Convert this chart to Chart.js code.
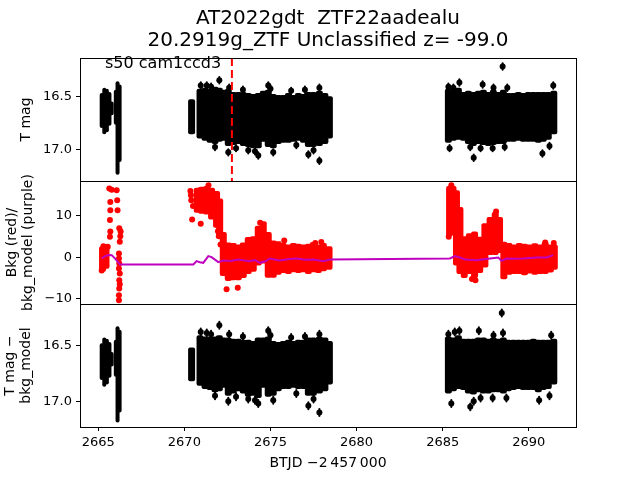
<!DOCTYPE html>
<html>
<head>
<meta charset="utf-8">
<script src="https://cdn.jsdelivr.net/npm/chart.js@4.4.1/dist/chart.umd.min.js"></script>
<style>
html, body { margin: 0; padding: 0; background: #fff; }
#wrap { position: relative; width: 640px; height: 480px; }
#wrap canvas { position: absolute; left: 0; top: 0; }
</style>
</head>
<body>
<div id="wrap">
    <canvas id="c1" width="640" height="480"></canvas>
    <canvas id="c2" width="640" height="480"></canvas>
    <canvas id="c3" width="640" height="480"></canvas>
</div>
<script>
// ===== Data =====
const titleLines = ['AT2022gdt  ZTF22aadealu', '20.2919g_ZTF Unclassified z= -99.0'];
const sectorLabel = 's50 cam1ccd3';
const xLabel = 'BTJD \u22122\u2009457\u2009000';
const xMin = 2663.94, xMax = 2692.74;
const xTicks = [2665, 2670, 2675, 2680, 2685, 2690];
const magTicks = [16.5, 17.0];
const bkgTicks = [-10, 0, 10];
const markerT = 2672.76;        // red dashed line
const spikeErr = 0.04;          // typical error bar half-length (mag)

// panel 1: T mag, dense band [t, top, bottom]
const magLeft1 = [
    [2665.20, 16.47, 16.80], [2665.35, 16.42, 16.86], [2665.50, 16.43, 16.84], [2665.65, 16.46, 16.78], [2665.78, 16.55, 16.68],
    [2666.02, 16.44, 16.77], [2666.12, 16.36, 17.24], [2666.24, 16.39, 17.12]
];
const magMid1 = [
    [2670.42, 16.53, 16.86], [2670.91, 16.43, 16.90], [2671.20, 16.42, 16.92], [2671.49, 16.43, 16.94],
    [2671.78, 16.41, 16.95], [2672.03, 16.42, 16.93], [2672.26, 16.44, 16.92], [2672.55, 16.43, 16.97],
    [2672.84, 16.46, 16.96], [2673.13, 16.46, 16.95], [2673.42, 16.46, 16.97], [2673.71, 16.47, 16.98],
    [2674.00, 16.48, 16.99], [2674.29, 16.47, 16.99], [2674.58, 16.45, 16.93], [2674.87, 16.44, 16.98],
    [2675.16, 16.48, 16.99], [2675.45, 16.49, 16.95], [2675.74, 16.49, 16.94], [2676.04, 16.47, 16.94],
    [2676.33, 16.49, 16.93], [2676.62, 16.47, 16.92], [2676.91, 16.48, 16.94], [2677.20, 16.46, 16.98],
    [2677.49, 16.46, 16.98], [2677.84, 16.45, 16.97], [2678.16, 16.47, 16.95], [2678.42, 16.50, 16.90]
];
const magRight1 = [
    [2685.33, 16.43, 16.94], [2685.62, 16.44, 16.92], [2685.91, 16.42, 16.91], [2686.20, 16.46, 16.92],
    [2686.49, 16.45, 16.95], [2686.78, 16.46, 16.97], [2687.07, 16.45, 16.95], [2687.36, 16.44, 16.96],
    [2687.65, 16.46, 16.97], [2687.94, 16.44, 16.96], [2688.23, 16.46, 16.95], [2688.52, 16.44, 16.95],
    [2688.81, 16.47, 16.93], [2689.10, 16.47, 16.93], [2689.39, 16.46, 16.92], [2689.68, 16.47, 16.93],
    [2689.97, 16.46, 16.93], [2690.26, 16.46, 16.93], [2690.55, 16.46, 16.94], [2690.84, 16.46, 16.93],
    [2691.13, 16.46, 16.91], [2691.45, 16.45, 16.86]
];
// single points sticking out of the band [t, mag]
const magSpikes1 = [
    [2670.95, 16.40], [2671.30, 16.40], [2671.55, 16.41], [2672.03, 16.35], [2672.60, 16.42], [2673.40, 16.44],
    [2674.87, 16.40], [2675.00, 16.43], [2676.20, 16.45], [2677.00, 16.44], [2677.84, 16.42],
    [2671.78, 16.98], [2672.55, 17.03], [2673.00, 16.99], [2673.71, 17.01], [2674.10, 17.02], [2674.29, 17.06],
    [2675.16, 17.03], [2676.50, 16.96], [2677.20, 17.05], [2677.50, 17.01], [2677.84, 17.11],
    [2685.33, 16.41], [2685.62, 16.42], [2685.97, 16.37], [2687.32, 16.39], [2687.95, 16.42], [2688.48, 16.22],
    [2688.75, 16.42], [2691.42, 16.40],
    [2685.40, 16.99], [2686.60, 16.98], [2686.80, 17.08], [2687.20, 16.99], [2687.90, 16.99], [2688.60, 16.98],
    [2690.79, 17.04], [2691.20, 16.97]
];

// panel 2: background (red) [t, high, low] and single dots [t, value]
const bkgLeft = [[2665.25, 2.6, -3.5], [2665.45, 2.7, -2.8]];
const bkgMid = [
    [2670.75, 16.6, 10.6], [2671.00, 16.8, 10.4], [2671.29, 17.0, 10.2], [2671.58, 16.6, 9.0],
    [2671.87, 15.8, 7.0], [2672.05, 14.0, 4.5], [2672.26, 6.0, -4.5], [2672.55, 3.5, -5.7],
    [2672.84, 3.4, -5.5], [2673.13, 3.0, -5.5], [2673.42, 3.5, -5.0], [2673.71, 4.8, -4.0],
    [2674.00, 5.0, -3.5], [2674.29, 7.5, -2.0], [2674.58, 8.6, -1.5], [2674.87, 6.0, -4.9],
    [2675.16, 4.0, -4.9], [2675.45, 3.8, -4.2], [2675.74, 3.4, -3.8], [2676.04, 3.0, -4.0],
    [2676.33, 3.4, -3.6], [2676.62, 3.2, -3.8], [2676.91, 3.0, -3.6], [2677.20, 3.2, -4.0],
    [2677.49, 3.6, -3.6], [2677.78, 3.0, -3.8], [2678.07, 3.4, -3.4], [2678.40, 2.6, -3.0]
];
const bkgRight = [
    [2685.40, 17.0, 5.0], [2685.60, 17.0, 7.0], [2685.80, 16.0, -2.0], [2686.00, 12.0, -4.0],
    [2686.25, 5.0, -5.0], [2686.55, 5.7, -4.0], [2686.85, 6.1, -5.0], [2687.15, 4.9, -3.8],
    [2687.45, 8.1, -2.5], [2687.75, 9.6, 0.5], [2688.05, 10.8, 0.5], [2688.30, 9.6, 1.0],
    [2688.55, 3.7, -5.3], [2688.85, 3.4, -4.2], [2689.15, 3.0, -4.0], [2689.45, 3.4, -4.0],
    [2689.75, 3.2, -4.3], [2690.05, 3.0, -3.9], [2690.35, 3.3, -4.2], [2690.65, 3.0, -4.0],
    [2690.95, 3.7, -4.0], [2691.25, 3.0, -3.7], [2691.48, 3.0, -3.0]
];
const bkgDots = [
    [2665.64, 16.4], [2665.78, 16.1], [2665.70, 13.2], [2665.70, 11.2], [2665.68, 8.9], [2665.70, 6.1],
    [2665.68, 4.9], [2665.30, 2.6], [2665.55, 2.5], [2665.20, -3.2],
    [2666.07, 16.0], [2666.10, 13.6], [2666.12, 11.2], [2666.22, 6.9], [2666.30, 6.1], [2666.28, 5.0],
    [2666.25, 3.7], [2666.20, 0.9], [2666.20, -0.3], [2666.22, -1.5], [2666.20, -2.7], [2666.25, -3.9],
    [2666.22, -5.5], [2666.25, -6.5], [2666.22, -7.5], [2666.20, -9.1], [2666.20, -10.3],
    [2670.35, 15.8], [2670.38, 14.8], [2670.40, 13.6], [2670.50, 12.2], [2670.45, 9.0], [2670.95, 8.0],
    [2671.40, 17.2], [2671.95, 6.2], [2672.00, 5.0], [2672.10, 3.0], [2672.45, -7.7], [2673.10, -7.3],
    [2674.40, 8.2], [2675.80, 4.0], [2677.60, 3.4], [2677.95, 3.6],
    [2685.35, 4.9], [2685.50, 17.2], [2686.90, -5.5], [2688.10, 10.9], [2686.70, -5.2], [2690.95, 3.5], [2691.45, 3.4]
];
// bkg model (purple) [t, value]
const bkgModel = [
    [2665.20, -0.3], [2665.40, 0.24], [2665.60, 0.5], [2665.78, 0.48], [2665.97, -0.3], [2666.26, -1.75],
    [2670.52, -1.75], [2670.71, -0.96], [2670.90, -1.2], [2671.10, -1.36], [2671.39, 0.24], [2671.58, 0.0],
    [2671.97, -1.2], [2672.26, -0.8], [2672.70, -0.9], [2673.13, -0.56], [2673.50, -0.8], [2673.81, -0.96],
    [2674.10, -0.7], [2674.39, -1.36], [2674.70, -1.0], [2674.97, -0.32], [2675.30, -0.6], [2675.55, -0.8],
    [2676.00, -0.5], [2676.52, -0.32], [2677.00, -0.6], [2677.49, -0.56], [2678.07, -0.96], [2678.45, -0.56],
    [2685.42, -0.32], [2685.71, 0.24], [2686.00, -0.08], [2686.30, -0.56], [2686.97, -0.72], [2687.40, -0.5],
    [2687.75, -0.32], [2688.23, -0.08], [2688.42, -0.88], [2688.71, -0.32], [2689.20, -0.4], [2689.68, -0.32],
    [2690.10, -0.2], [2690.46, -0.08], [2691.04, -0.08], [2691.42, 0.48]
];

// panel 3: T mag - bkg_model
const magLeft3 = [
    [2665.20, 16.48, 16.81], [2665.35, 16.43, 16.87], [2665.50, 16.44, 16.85], [2665.65, 16.47, 16.79], [2665.78, 16.56, 16.69],
    [2666.02, 16.45, 16.78], [2666.12, 16.33, 17.19], [2666.24, 16.36, 17.10]
];
const magMid3 = [
    [2670.42, 16.52, 16.82], [2670.91, 16.41, 16.86], [2671.20, 16.42, 16.89], [2671.49, 16.42, 16.90],
    [2671.78, 16.42, 16.92], [2672.03, 16.41, 16.91], [2672.26, 16.43, 16.88], [2672.55, 16.43, 16.95],
    [2672.84, 16.44, 16.93], [2673.13, 16.44, 16.91], [2673.42, 16.45, 16.93], [2673.71, 16.45, 16.96],
    [2674.00, 16.46, 16.95], [2674.29, 16.43, 16.97], [2674.58, 16.43, 16.88], [2674.87, 16.42, 16.96],
    [2675.16, 16.46, 16.95], [2675.45, 16.47, 16.91], [2675.74, 16.46, 16.89], [2676.04, 16.45, 16.89],
    [2676.33, 16.46, 16.88], [2676.62, 16.45, 16.89], [2676.91, 16.45, 16.89], [2677.20, 16.43, 16.95],
    [2677.49, 16.43, 16.95], [2677.84, 16.42, 16.93], [2678.16, 16.43, 16.91], [2678.42, 16.46, 16.85]
];
const magRight3 = [
    [2685.33, 16.42, 16.93], [2685.62, 16.43, 16.91], [2685.91, 16.41, 16.89], [2686.20, 16.44, 16.90],
    [2686.49, 16.44, 16.93], [2686.78, 16.44, 16.94], [2687.07, 16.43, 16.92], [2687.36, 16.43, 16.93],
    [2687.65, 16.44, 16.93], [2687.94, 16.43, 16.92], [2688.23, 16.44, 16.92], [2688.52, 16.43, 16.93],
    [2688.81, 16.45, 16.91], [2689.10, 16.45, 16.90], [2689.39, 16.45, 16.89], [2689.68, 16.45, 16.90],
    [2689.97, 16.45, 16.90], [2690.26, 16.44, 16.90], [2690.55, 16.45, 16.92], [2690.84, 16.45, 16.90],
    [2691.13, 16.45, 16.89], [2691.45, 16.44, 16.85]
];
const magSpikes3 = [
    [2670.95, 16.38], [2671.30, 16.39], [2671.55, 16.40], [2672.03, 16.32], [2672.60, 16.40], [2673.40, 16.42],
    [2674.87, 16.37], [2675.00, 16.41], [2676.20, 16.43], [2677.00, 16.42], [2677.84, 16.40],
    [2671.78, 16.95], [2672.55, 17.00], [2673.00, 16.96], [2673.71, 16.98], [2674.10, 16.99], [2674.29, 17.02],
    [2675.16, 16.99], [2676.50, 16.93], [2677.20, 17.04], [2677.50, 16.98], [2677.84, 17.10],
    [2685.33, 16.40], [2685.70, 16.38], [2685.97, 16.37], [2687.10, 16.37], [2687.95, 16.41], [2688.43, 16.21],
    [2688.50, 16.39], [2691.30, 16.41],
    [2685.50, 17.02], [2686.60, 17.05], [2686.80, 17.00], [2687.20, 16.97], [2687.90, 16.97], [2688.70, 16.97],
    [2690.60, 16.99], [2691.20, 16.95]
];

// ===== Helpers =====
const FONT = 'DejaVu Sans';
Chart.defaults.font.family = FONT;
Chart.defaults.color = '#000';
Chart.defaults.animation = false;

const toBand = rows => rows.map(r => ({ x: r[0], y: [r[1], r[2]] }));
const toErr = rows => rows.map(r => [r[0], r[1] - spikeErr, r[1] + spikeErr]);
const toPts = rows => rows.map(r => ({ x: r[0], y: r[1] }));

function band(rows, color, width, order) {
    return {
        type: 'bar', data: toBand(rows), backgroundColor: color, grouped: false,
        barPercentage: 100, maxBarThickness: width, borderRadius: 2, borderSkipped: false, order: order || 3
    };
}
function dots(rows, color, r) {
    return { type: 'scatter', data: toPts(rows), backgroundColor: color, borderWidth: 0, pointRadius: r, order: 1 };
}

const framePlugin = {
    id: 'frame',
    afterDatasetsDraw(chart) {
        const a = chart.chartArea, ctx = chart.ctx;
        ctx.save();
        ctx.strokeStyle = '#000';
        ctx.lineWidth = 1;
        ctx.strokeRect(a.left + 0.5, a.top + 0.5, a.right - a.left, a.bottom - a.top);
        ctx.restore();
    }
};
const sectorPlugin = {
    id: 'sector',
    afterDraw(chart) {
        const a = chart.chartArea, ctx = chart.ctx;
        ctx.save();
        ctx.font = '16px ' + FONT;
        ctx.fillStyle = '#000';
        ctx.textBaseline = 'middle';
        ctx.fillText(sectorLabel, a.left + 25, a.top + 6);
        ctx.restore();
    }
};

function hiddenX() {
    return { type: 'linear', min: xMin, max: xMax, offset: false, display: false };
}
function yAxis(min, max, reverse, ticks, fmt, title, titlePad) {
    return {
        type: 'linear', min, max, reverse, offset: false,
        afterFit: s => { s.width = 80; },
        afterBuildTicks: s => { s.ticks = ticks.map(v => ({ value: v })); },
        border: { display: false },
        grid: { drawOnChartArea: false, drawTicks: true, tickLength: 4, color: '#000', offset: false },
        ticks: { color: '#000', font: { size: 13 }, padding: 4, callback: fmt },
        title: { display: true, text: title, color: '#000', font: { size: 14, lineHeight: 1.1 }, padding: { top: titlePad, bottom: 0 } }
    };
}
const magFmt = v => v.toFixed(1);
const bkgFmt = v => (v < 0 ? '\u2212' + Math.abs(v) : String(v));
const baseOpts = {
    responsive: false,
    events: [],
    plugins: { legend: { display: false }, tooltip: { enabled: false } }
};

// ===== Panel 1: T mag =====
new Chart(document.getElementById('c1'), {
    type: 'bar',
    data: {
        datasets: [
            { type: 'line', data: [{ x: markerT, y: 16.14 }, { x: markerT, y: 17.30 }], borderColor: '#ff0000',
              borderWidth: 2, borderDash: [8, 4], pointRadius: 0, order: 0 },
            dots(magSpikes1, '#000', 3),
            band(toErr(magSpikes1), '#000', 2, 2),
            band(magLeft1, '#000', 4),
            band(magMid1.concat(magRight1), '#000', 7)
        ]
    },
    options: Object.assign({}, baseOpts, {
        layout: { padding: { left: 0, right: 64, top: 4, bottom: 299 } },
        plugins: Object.assign({}, baseOpts.plugins, {
            title: { display: true, text: titleLines, fullSize: false, color: '#000',
                     font: { size: 20, weight: 'normal', lineHeight: 1.1 }, padding: { top: 4, bottom: 6 } }
        }),
        scales: { x: hiddenX(), y: yAxis(16.14, 17.30, true, magTicks, magFmt, 'T mag', 19) }
    }),
    plugins: [framePlugin, sectorPlugin]
});

// ===== Panel 2: Bkg / model =====
new Chart(document.getElementById('c2'), {
    type: 'bar',
    data: {
        datasets: [
            { type: 'line', data: toPts(bkgModel), borderColor: '#bf00bf', borderWidth: 2, pointRadius: 0, tension: 0, order: 0 },
            dots(bkgDots, '#ff0000', 3),
            band(bkgLeft.concat(bkgMid, bkgRight), '#ff0000', 7)
        ]
    },
    options: Object.assign({}, baseOpts, {
        layout: { padding: { left: 0, right: 64, top: 181, bottom: 176 } },
        scales: { x: hiddenX(), y: yAxis(-11.2, 18.2, false, bkgTicks, bkgFmt, ['Bkg (red)/', 'bkg_model (purple)'], 5) }
    }),
    plugins: [framePlugin]
});

// ===== Panel 3: T mag - bkg_model =====
new Chart(document.getElementById('c3'), {
    type: 'bar',
    data: {
        datasets: [
            dots(magSpikes3, '#000', 3),
            band(toErr(magSpikes3), '#000', 2, 2),
            band(magLeft3, '#000', 4),
            band(magMid3.concat(magRight3), '#000', 7)
        ]
    },
    options: Object.assign({}, baseOpts, {
        layout: { padding: { left: 0, right: 64, top: 304, bottom: 0 } },
        scales: {
            x: {
                type: 'linear', min: xMin, max: xMax, offset: false,
                afterFit: s => { s.height = 53; },
                afterBuildTicks: s => { s.ticks = xTicks.map(v => ({ value: v })); },
                border: { display: false },
                grid: { drawOnChartArea: false, drawTicks: true, tickLength: 4, color: '#000', offset: false },
                ticks: { color: '#000', font: { size: 13 }, padding: 4, maxRotation: 0, autoSkip: false, callback: v => String(v) },
                title: { display: true, text: xLabel, color: '#000', font: { size: 14, lineHeight: 1.1 }, padding: { top: 0, bottom: 9 } }
            },
            y: yAxis(16.13, 17.23, true, magTicks, magFmt, ['T mag \u2212', 'bkg_model'], 3)
        }
    }),
    plugins: [framePlugin]
});
</script>
</body>
</html>
